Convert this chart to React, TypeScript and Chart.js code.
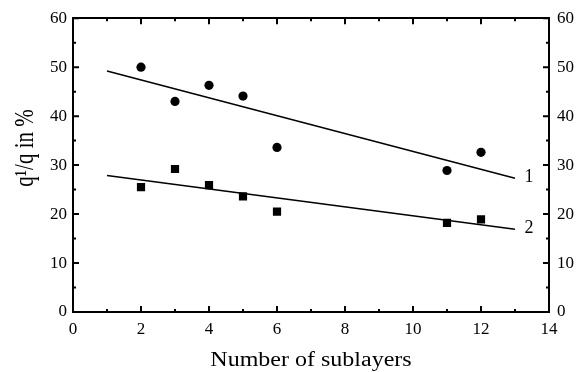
import React, { useEffect, useRef } from "react";
import { Chart, registerables } from "chart.js";

Chart.register(...registerables);

const sublayers1: number[] = [2, 3, 4, 5, 6, 11, 12];
const values1: number[] = [50.0, 43.0, 46.3, 44.1, 33.6, 28.9, 32.6];
const sublayers2: number[] = [2, 3, 4, 5, 6, 11, 12];
const values2: number[] = [25.5, 29.2, 25.9, 23.6, 20.5, 18.2, 18.9];
const fitX: number[] = [1, 13];
const fit1: number[] = [49.2, 27.3];
const fit2: number[] = [27.9, 16.9];
const curveLabels: string[] = ["1", "2"];
const xTicks: number[] = [0, 2, 4, 6, 8, 10, 12, 14];
const yTicks: number[] = [0, 10, 20, 30, 40, 50, 60];
const xTitle = "Number of sublayers";
const yTitle = "q¹/q in %";

const FONT = "'Liberation Serif', 'Times New Roman', serif";

const tickPlugin = {
  id: "inwardTicks",
  afterDraw(chart: any) {
    const ctx = chart.ctx;
    const { left, right, top, bottom } = chart.chartArea;
    const xs = chart.scales.x;
    const ys = chart.scales.y;
    ctx.save();
    ctx.strokeStyle = "#000";
    ctx.lineWidth = 2;
    for (let v = xTicks[0]; v <= xTicks[xTicks.length - 1]; v += 1) {
      const px = xs.getPixelForValue(v);
      const major = xTicks.includes(v);
      const len = major ? 6 : 3;
      ctx.beginPath();
      ctx.moveTo(px, bottom);
      ctx.lineTo(px, bottom - len);
      ctx.moveTo(px, top);
      ctx.lineTo(px, top + len);
      ctx.stroke();
    }
    for (let v = yTicks[0]; v <= yTicks[yTicks.length - 1]; v += 5) {
      const py = ys.getPixelForValue(v);
      const major = yTicks.includes(v);
      const len = major ? 6 : 3;
      ctx.beginPath();
      ctx.moveTo(left, py);
      ctx.lineTo(left + len, py);
      ctx.moveTo(right, py);
      ctx.lineTo(right - len, py);
      ctx.stroke();
    }
    ctx.fillStyle = "#000";
    // curve labels
    ctx.font = `18px ${FONT}`;
    ctx.textAlign = "left";
    ctx.textBaseline = "middle";
    const ends = [fit1[fit1.length - 1], fit2[fit2.length - 1]];
    ends.forEach((val, i) => {
      ctx.fillText(
        curveLabels[i],
        xs.getPixelForValue(fitX[fitX.length - 1] + 0.28),
        ys.getPixelForValue(val) - 1
      );
    });
    // x title
    ctx.save();
    ctx.font = `20px ${FONT}`;
    ctx.textAlign = "center";
    ctx.textBaseline = "alphabetic";
    ctx.translate((left + right) / 2, 366);
    ctx.scale(1.2, 1);
    ctx.fillText(xTitle, 0, 0);
    ctx.restore();
    // y title
    ctx.save();
    ctx.font = `21px ${FONT}`;
    ctx.textAlign = "center";
    ctx.textBaseline = "alphabetic";
    ctx.translate(33, 148);
    ctx.scale(1.25, 1);
    ctx.rotate(-Math.PI / 2);
    ctx.fillText(yTitle, 0, 0);
    ctx.restore();
    ctx.restore();
  },
};

export default function App() {
  const ref = useRef<HTMLCanvasElement | null>(null);
  useEffect(() => {
    document.body.style.margin = "0";
    const canvas = ref.current;
    if (!canvas) return;
    const chart = new Chart(canvas, {
      type: "scatter",
      data: {
        datasets: [
          {
            type: "line",
            data: fitX.map((x, i) => ({ x, y: fit1[i] })),
            borderColor: "#000",
            borderWidth: 1.5,
            pointRadius: 0,
            fill: false,
          },
          {
            type: "line",
            data: fitX.map((x, i) => ({ x, y: fit2[i] })),
            borderColor: "#000",
            borderWidth: 1.5,
            pointRadius: 0,
            fill: false,
          },
          {
            data: sublayers1.map((x, i) => ({ x, y: values1[i] })),
            pointStyle: "circle",
            pointRadius: 4.6,
            backgroundColor: "#000",
            borderColor: "#000",
            borderWidth: 0,
          },
          {
            data: sublayers2.map((x, i) => ({ x, y: values2[i] })),
            pointStyle: "rect",
            pointRadius: 5.8,
            backgroundColor: "#000",
            borderColor: "#000",
            borderWidth: 0,
          },
        ],
      } as any,
      options: {
        animation: false,
        responsive: false,
        maintainAspectRatio: false,
        layout: { padding: 0 },
        plugins: {
          legend: { display: false },
          tooltip: { enabled: false },
        },
        scales: {
          x: {
            type: "linear",
            position: "bottom",
            min: 0,
            max: 14,
            afterBuildTicks: (s: any) => {
              s.ticks = xTicks.map((v) => ({ value: v }));
            },
            afterFit: (s: any) => {
              s.height = 60;
            },
            grid: { display: false, drawTicks: false },
            border: { display: true, color: "#000", width: 2 },
            ticks: {
              color: "#000",
              font: { family: FONT, size: 17 },
              padding: 7,
              maxRotation: 0,
            },
          },
          x2: {
            type: "linear",
            position: "top",
            min: 0,
            max: 14,
            afterFit: (s: any) => {
              s.height = 15;
            },
            grid: { display: false, drawTicks: false },
            border: { display: true, color: "#000", width: 2 },
            ticks: { display: false },
          },
          y: {
            type: "linear",
            position: "left",
            min: 0,
            max: 60,
            afterBuildTicks: (s: any) => {
              s.ticks = yTicks.map((v) => ({ value: v }));
            },
            afterFit: (s: any) => {
              s.width = 73;
            },
            grid: { display: false, drawTicks: false },
            border: { display: true, color: "#000", width: 2 },
            ticks: {
              color: "#000",
              font: { family: FONT, size: 17 },
              padding: 6,
            },
          },
          y2: {
            type: "linear",
            position: "right",
            min: 0,
            max: 60,
            afterBuildTicks: (s: any) => {
              s.ticks = yTicks.map((v) => ({ value: v }));
            },
            afterFit: (s: any) => {
              s.width = 35;
            },
            grid: { display: false, drawTicks: false },
            border: { display: true, color: "#000", width: 2 },
            ticks: {
              color: "#000",
              font: { family: FONT, size: 17 },
              padding: 8,
            },
          },
        },
      } as any,
      plugins: [tickPlugin],
    });
    return () => chart.destroy();
  }, []);
  return (
    <div style={{ width: 584, height: 372, background: "#fff" }}>
      <canvas ref={ref} width={584} height={372} style={{ display: "block" }} />
    </div>
  );
}
